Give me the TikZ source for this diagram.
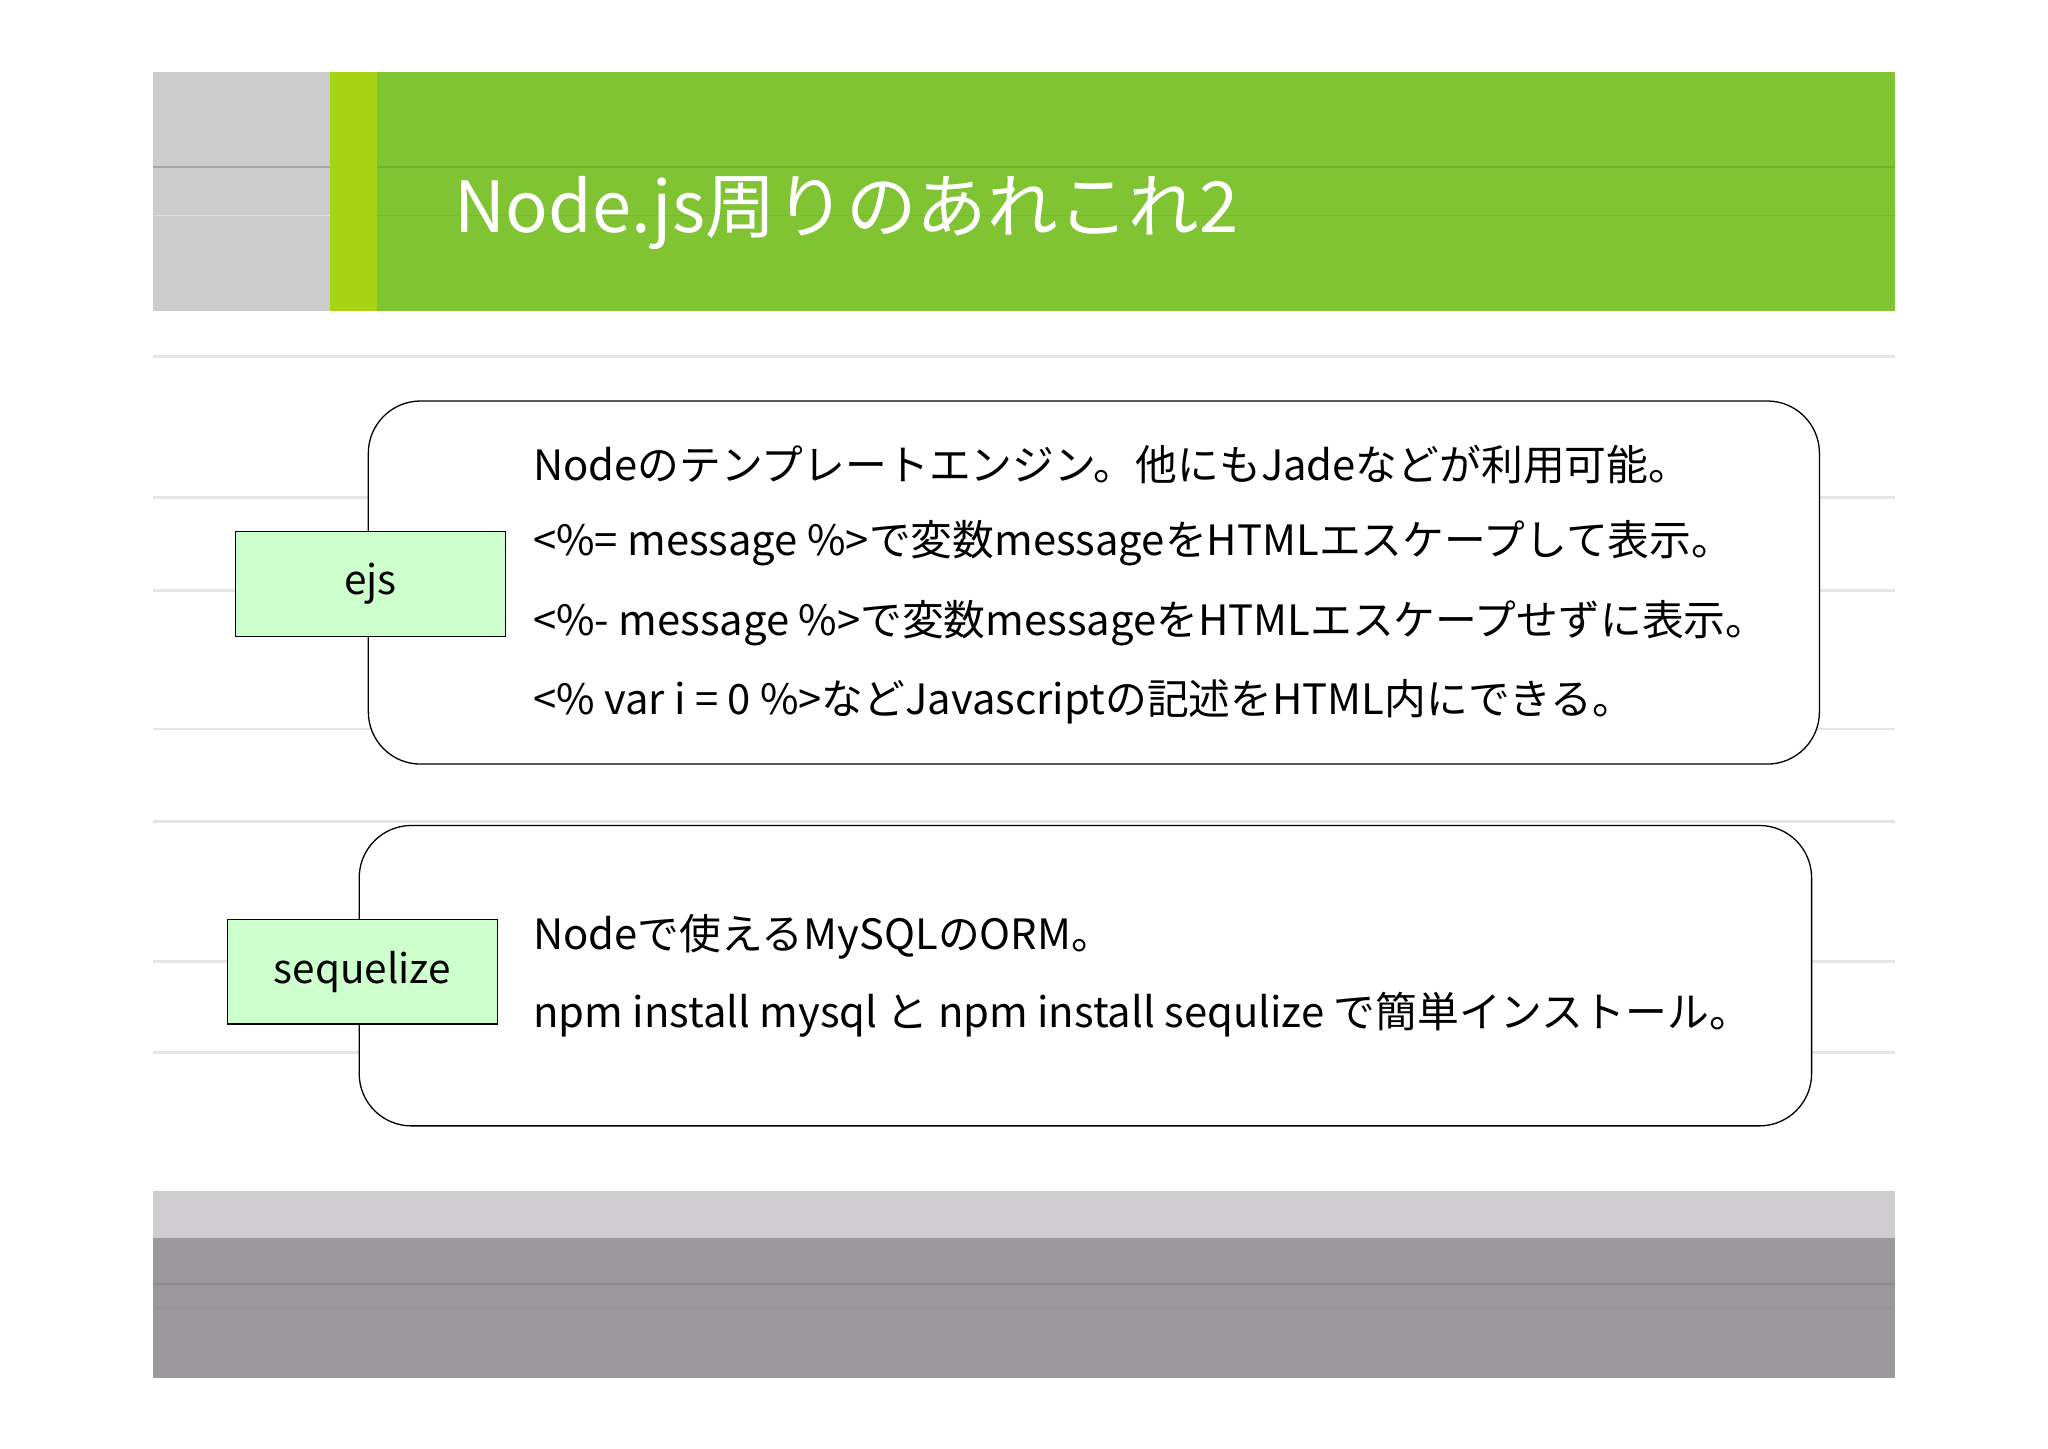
\documentclass[tikz,border=0pt]{standalone}
\usepackage{fontspec}
\setmainfont{Noto Sans CJK JP}
\begin{document}
\begin{tikzpicture}[x=1pt,y=-1pt,
  faint/.style={draw=black!10,line width=2pt},
  bigbox/.style={draw=black,line width=1pt,rounded corners=40pt,fill=white},
  tag/.style={draw=black,line width=0.8pt,fill=green!20,minimum width=207pt,minimum height=80pt,font=\fontsize{31}{36}\selectfont},
  txt/.style={anchor=west,inner sep=0pt,font=\fontsize{32}{36}\selectfont}]
\useasboundingbox (0,0) rectangle (1568,1109);
\fill[white] (0,0) rectangle (1568,1109);
% header
\fill[black!20] (117,55) rectangle (253,238);
\fill[color={rgb,255:red,128;green,196;blue,52}] (289,55) rectangle (1451,238);
\fill[color={rgb,255:red,166;green,212;blue,20}] (253,55) rectangle (289,238);
\draw[black!35,line width=2pt] (117,128) -- (253,128);
\draw[black!12,line width=1pt] (117,165) -- (253,165);
\draw[color={rgb,255:red,110;green,180;blue,40},line width=2pt] (289,128) -- (1451,128);
\draw[color={rgb,255:red,118;green,186;blue,46},line width=1pt] (289,165) -- (1451,165);
\node[anchor=west,text=white,inner sep=0pt,font=\fontsize{54}{60}\selectfont] (title) at (348,163) {Node.js周りのあれこれ2};
% faint lines
\foreach \yy in {273,381,452,558,629,736,806} \draw[faint] (117,\yy) -- (1451,\yy);
% box 1
\draw[bigbox] (282,307) rectangle (1393,585);
\node[tag] (ejs) at (283.5,447) {ejs};
\node[txt] (t1) at (408,356) {Nodeのテンプレートエンジン。他にもJadeなどが利用可能。};
\node[txt] (t2) at (408,416) {<\%= message \%>で変数messageをHTMLエスケープして表示。};
\node[txt] (t3) at (408,477) {<\%- message \%>で変数messageをHTMLエスケープせずに表示。};
\node[txt] (t4) at (408,537) {<\% var i = 0 \%>などJavascriptの記述をHTML内にできる。};
% box 2
\draw[bigbox] (275,632) rectangle (1387,862);
\node[tag] (seq) at (277.5,744) {sequelize};
\node[txt] (s1) at (408,717) {Nodeで使えるMySQLのORM。};
\node[txt] (s2) at (408,777) {npm install mysql と npm install sequlize で簡単インストール。};
% footer
\fill[color={rgb,255:red,207;green,205;blue,207}] (117,912) rectangle (1451,948);
\fill[color={rgb,255:red,154;green,152;blue,154}] (117,948) rectangle (1451,1055);
\draw[black!45,line width=1pt] (117,983) -- (1451,983);
\draw[black!42,line width=1pt] (117,1001) -- (1451,1001);
\end{tikzpicture}
\end{document}
